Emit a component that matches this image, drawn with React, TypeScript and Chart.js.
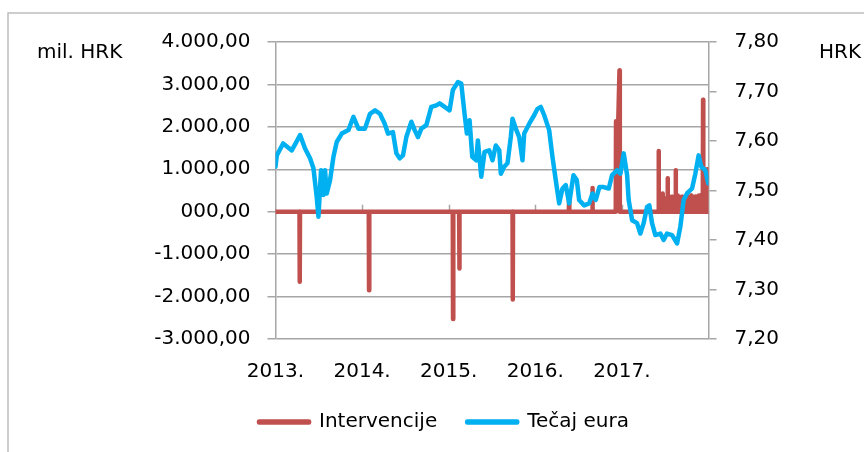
import React, { useEffect, useRef } from 'react';
import { Chart, registerables } from 'chart.js';

Chart.register(...registerables);

const FONT_FAMILY = '"DejaVu Sans", "Liberation Sans", sans-serif';

// Series names (legend)
const seriesNames = ['Intervencije', 'Tečaj eura'];

// Axis tick labels
const yearTickLabels = ['2013.', '2014.', '2015.', '2016.', '2017.'];
const leftTickLabels = ['-3.000,00', '-2.000,00', '-1.000,00', '000,00', '1.000,00', '2.000,00', '3.000,00', '4.000,00'];
const rightTickLabels = ['7,20', '7,30', '7,40', '7,50', '7,60', '7,70', '7,80'];
const leftAxisTitle = 'mil. HRK';
const rightAxisTitle = 'HRK';

// EUR/HRK exchange rate (date as decimal year, value in HRK)
const rateDates = [
  2013.0, 2013.015, 2013.088, 2013.188, 2013.284, 2013.341, 2013.399, 2013.438, 2013.476, 2013.496,
  2013.526, 2013.554, 2013.572, 2013.592, 2013.63, 2013.669, 2013.707, 2013.765, 2013.842, 2013.9,
  2013.957, 2014.033, 2014.091, 2014.149, 2014.206, 2014.261, 2014.299, 2014.356, 2014.396, 2014.434,
  2014.472, 2014.511, 2014.569, 2014.607, 2014.645, 2014.684, 2014.742, 2014.799, 2014.857, 2014.895,
  2014.953, 2015.01, 2015.048, 2015.106, 2015.145, 2015.183, 2015.21, 2015.241, 2015.272, 2015.318,
  2015.337, 2015.376, 2015.414, 2015.468, 2015.506, 2015.544, 2015.584, 2015.602, 2015.641, 2015.679,
  2015.717, 2015.737, 2015.775, 2015.814, 2015.852, 2015.872, 2015.93, 2015.987, 2016.025, 2016.063,
  2016.103, 2016.16, 2016.198, 2016.236, 2016.276, 2016.314, 2016.352, 2016.391, 2016.441, 2016.479,
  2016.506, 2016.564, 2016.622, 2016.66, 2016.698, 2016.74, 2016.79, 2016.848, 2016.887, 2016.945,
  2016.983, 2017.021, 2017.06, 2017.078, 2017.118, 2017.175, 2017.213, 2017.251, 2017.291, 2017.317,
  2017.348, 2017.386, 2017.444, 2017.482, 2017.521, 2017.579, 2017.637, 2017.675, 2017.713, 2017.752,
  2017.81, 2017.848, 2017.886, 2017.917, 2017.963, 2017.998,
];
const rateValues = [
  7.548, 7.571, 7.595, 7.581, 7.612, 7.585, 7.565, 7.545, 7.487, 7.447,
  7.541, 7.491, 7.541, 7.494, 7.521, 7.568, 7.598, 7.615, 7.622, 7.649,
  7.625, 7.625, 7.655, 7.662, 7.655, 7.635, 7.615, 7.618, 7.575, 7.565,
  7.571, 7.608, 7.639, 7.622, 7.608, 7.625, 7.632, 7.669, 7.672, 7.676,
  7.669, 7.662, 7.703, 7.719, 7.716, 7.655, 7.615, 7.642, 7.568, 7.561,
  7.601, 7.528, 7.578, 7.581, 7.561, 7.591, 7.581, 7.534, 7.548, 7.555,
  7.608, 7.645, 7.625, 7.608, 7.561, 7.615, 7.635, 7.652, 7.665, 7.669,
  7.652, 7.622, 7.568, 7.521, 7.474, 7.504, 7.511, 7.474, 7.531, 7.521,
  7.481, 7.47, 7.474, 7.494, 7.481, 7.507, 7.507, 7.504, 7.531, 7.541,
  7.534, 7.575, 7.531, 7.481, 7.44, 7.434, 7.413, 7.434, 7.467, 7.47,
  7.434, 7.41, 7.413, 7.4, 7.413, 7.41, 7.393, 7.427, 7.481, 7.494,
  7.504, 7.534, 7.571, 7.548, 7.541, 7.514,
];

// Interventions (mil. HRK); zero on days without an intervention
const interventionDates = [
  2013.0,
  2013.277, 2013.28, 2013.283,
  2014.077, 2014.08, 2014.083,
  2015.047, 2015.05, 2015.053,
  2015.12, 2015.123, 2015.126,
  2015.737, 2015.74, 2015.743,
  2016.387, 2016.39, 2016.393,
  2016.657, 2016.66, 2016.663,
  2016.929, 2016.932, 2016.958, 2016.972, 2016.976,
  2017.421, 2017.424, 2017.427,
  2017.447, 2017.45, 2017.453,
  2017.467, 2017.47, 2017.473,
  2017.497, 2017.5, 2017.503,
  2017.525, 2017.528, 2017.531,
  2017.552, 2017.555, 2017.558,
  2017.576, 2017.579, 2017.582,
  2017.597, 2017.6, 2017.603,
  2017.618, 2017.621, 2017.624,
  2017.642, 2017.645, 2017.648,
  2017.662, 2017.665, 2017.668,
  2017.677, 2017.68, 2017.683,
  2017.692, 2017.695, 2017.698,
  2017.707, 2017.71, 2017.713,
  2017.722, 2017.725, 2017.728,
  2017.737, 2017.74, 2017.743,
  2017.752, 2017.755, 2017.758,
  2017.767, 2017.77, 2017.773,
  2017.782, 2017.785, 2017.788,
  2017.797, 2017.8, 2017.803,
  2017.812, 2017.815, 2017.818,
  2017.827, 2017.83, 2017.833,
  2017.842, 2017.845, 2017.848,
  2017.857, 2017.86, 2017.863,
  2017.872, 2017.875, 2017.878,
  2017.887, 2017.89, 2017.893,
  2017.902, 2017.905, 2017.908,
  2017.917, 2017.92, 2017.923,
  2017.934, 2017.937, 2017.94,
  2017.952, 2017.955, 2017.958,
  2017.967, 2017.97, 2017.973,
  2017.982, 2017.985, 2017.988,
  2018.0,
];
const interventionValues = [
  0,
  0, -1650, 0,
  0, -1850, 0,
  0, -2530, 0,
  0, -1340, 0,
  0, -2070, 0,
  0, 280, 0,
  0, 560, 0,
  0, 2130, 2130, 3330, 0,
  0, 1430, 0,
  0, 400, 0,
  0, 430, 0,
  0, 300, 0,
  0, 790, 0,
  0, 350, 0,
  0, 350, 0,
  0, 300, 0,
  0, 980, 0,
  0, 380, 0,
  0, 350, 0,
  0, 330, 0,
  0, 350, 0,
  0, 340, 0,
  0, 350, 0,
  0, 360, 0,
  0, 350, 0,
  0, 340, 0,
  0, 350, 0,
  0, 380, 0,
  0, 350, 0,
  0, 340, 0,
  0, 350, 0,
  0, 360, 0,
  0, 350, 0,
  0, 380, 0,
  0, 350, 0,
  0, 400, 0,
  0, 2640, 0,
  0, 600, 0,
  0, 620, 0,
  0, 1000, 0,
  0,
];

const RED = '#C0504D';
const BLUE = '#00B0F0';
const GRID = '#a6a6a6';
const TEXT = '#000000';

const decorPlugin = {
  id: 'decor',
  beforeDraw(chart: any) {
    const ctx = chart.ctx;
    ctx.save();
    ctx.strokeStyle = '#bdbdbd';
    ctx.lineWidth = 1.5;
    ctx.beginPath();
    ctx.moveTo(8, 452);
    ctx.lineTo(8, 13);
    ctx.lineTo(864, 13);
    ctx.stroke();
    ctx.restore();
  },
  beforeDatasetsDraw(chart: any) {
    const ctx = chart.ctx;
    const x = chart.scales.x;
    const y = chart.scales.y;
    const y0 = y.getPixelForValue(0);
    ctx.save();
    ctx.strokeStyle = GRID;
    ctx.lineWidth = 1.5;
    for (let yr = 2014; yr <= 2017; yr++) {
      const px = Math.round(x.getPixelForValue(yr)) + 0.5;
      ctx.beginPath();
      ctx.moveTo(px, y0 - 7);
      ctx.lineTo(px, y0);
      ctx.stroke();
    }
    ctx.restore();
  },
  afterDraw(chart: any) {
    const ctx = chart.ctx;
    ctx.save();
    ctx.fillStyle = TEXT;
    ctx.font = `20px ${FONT_FAMILY}`;
    ctx.textBaseline = 'middle';
    ctx.textAlign = 'left';
    ctx.fillText(leftAxisTitle, 37, 53);
    ctx.fillText(rightAxisTitle, 819, 53);
    ctx.restore();
  },
};

export default function App() {
  const canvasRef = useRef<HTMLCanvasElement | null>(null);

  useEffect(() => {
    if (!canvasRef.current) return;
    const font = { family: FONT_FAMILY, size: 20 };
    const chart = new Chart(canvasRef.current, {
      type: 'line',
      data: {
        datasets: [
          {
            label: seriesNames[0],
            data: interventionDates.map((d, i) => ({ x: d, y: interventionValues[i] })),
            borderColor: RED,
            backgroundColor: RED,
            borderWidth: 4.5,
            borderCapStyle: 'round',
            borderJoinStyle: 'round',
            pointRadius: 0,
            tension: 0,
            yAxisID: 'y',
            order: 1,
          },
          {
            label: seriesNames[1],
            data: rateDates.map((d, i) => ({ x: d, y: rateValues[i] })),
            borderColor: BLUE,
            backgroundColor: BLUE,
            borderWidth: 4.5,
            borderCapStyle: 'round',
            borderJoinStyle: 'round',
            pointRadius: 0,
            tension: 0,
            yAxisID: 'y1',
            order: 0,
          },
        ],
      },
      options: {
        animation: false,
        responsive: false,
        maintainAspectRatio: false,
        devicePixelRatio: 1,
        layout: { padding: { top: 42, left: 24, right: 0, bottom: 10 } },
        plugins: {
          legend: {
            position: 'bottom',
            labels: {
              font,
              color: TEXT,
              boxWidth: 50,
              boxHeight: 1,
              padding: 30,
              sort: (a: any, b: any) => a.datasetIndex - b.datasetIndex,
            },
          },
          tooltip: { enabled: false },
        },
        scales: {
          x: {
            type: 'linear',
            min: 2013,
            max: 2018,
            afterFit: (s: any) => {
              s.height = 43;
            },
            grid: { display: false, drawTicks: false },
            border: { display: false },
            ticks: {
              stepSize: 1,
              padding: 21,
              font,
              color: TEXT,
              maxRotation: 0,
              autoSkip: false,
              callback: (v: any) => yearTickLabels[Math.round(Number(v) - 2013)] ?? '',
            },
          },
          y: {
            type: 'linear',
            position: 'left',
            min: -3000,
            max: 4000,
            afterFit: (s: any) => {
              s.width = 251.5;
            },
            grid: { color: GRID, lineWidth: 1.5, tickLength: 8, tickColor: GRID },
            border: { color: GRID, width: 1.5 },
            ticks: {
              stepSize: 1000,
              padding: 17,
              font,
              color: TEXT,
              callback: (v: any) => leftTickLabels[Math.round((Number(v) + 3000) / 1000)] ?? '',
            },
          },
          y1: {
            type: 'linear',
            position: 'right',
            min: 7.2,
            max: 7.8,
            afterFit: (s: any) => {
              s.width = 155.5;
            },
            grid: { drawOnChartArea: false, color: GRID, lineWidth: 1.5, tickLength: 8 },
            border: { color: GRID, width: 1.5 },
            ticks: {
              stepSize: 0.1,
              padding: 18,
              font,
              color: TEXT,
              callback: (v: any) => rightTickLabels[Math.round((Number(v) - 7.2) * 10)] ?? '',
            },
          },
        },
      } as any,
      plugins: [decorPlugin],
    });
    return () => chart.destroy();
  }, []);

  return (
    <div style={{ position: 'absolute', left: 0, top: 0, width: 864, height: 452, background: '#fff' }}>
      <canvas ref={canvasRef} width={864} height={452} style={{ display: 'block' }} />
    </div>
  );
}
